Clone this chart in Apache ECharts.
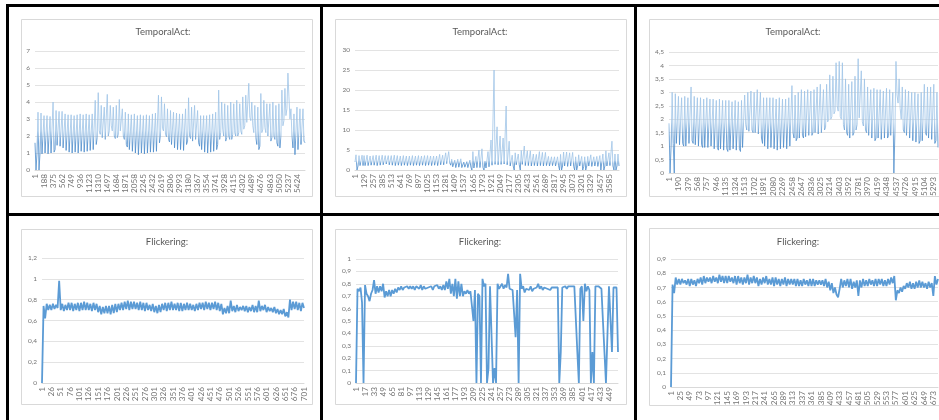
<!DOCTYPE html>
<html><head><meta charset="utf-8">
<script src="https://cdn.jsdelivr.net/npm/echarts@6/dist/echarts.min.js"></script>
<style>html,body{margin:0;padding:0;background:#fff}#c{width:939px;height:420px}</style>
</head><body><div id="c"></div>
<script>
const temporalTitle = 'TemporalAct:';
const flickerTitle = 'Flickering:';

const xLabels1 = ['1','188','375','562','749','936','1123','1310','1497','1684','1871','2058','2245','2432','2619','2806','2993','3180','3367','3554','3741','3928','4115','4302','4489','4676','4863','5050','5237','5424'];
const xLabels2 = ['1','129','257','385','513','641','769','897','1025','1153','1281','1409','1537','1665','1793','1921','2049','2177','2305','2433','2561','2689','2817','2945','3073','3201','3329','3457','3585'];
const xLabels3 = ['1','190','379','568','757','946','1135','1324','1513','1702','1891','2080','2269','2458','2647','2836','3025','3214','3403','3592','3781','3970','4159','4348','4537','4726','4915','5104','5293'];
const xLabels4 = ['1','26','51','76','101','126','151','176','201','226','251','276','301','326','351','376','401','426','451','476','501','526','551','576','601','626','651','676','701'];
const xLabels5 = ['1','17','33','49','65','81','97','113','129','145','161','177','193','209','225','241','257','273','289','305','321','337','353','369','385','401','417','433','449'];
const xLabels6 = ['1','25','49','73','97','121','145','169','193','217','241','265','289','313','337','361','385','409','433','457','481','505','529','553','577','601','625','649','673'];

// TemporalAct (left) - 9 samples per label step
const values1 = [
1.6,0.0,1.0, 3.4,0.0,1.0, 3.35,0.95,1.05,
3.2,1.0,0.95, 3.2,0.95,1.05, 3.15,1.0,0.95,
4.0,1.05,1.2, 3.5,1.45,1.35, 3.45,1.4,1.3,
3.45,1.3,1.2, 3.3,1.15,1.1, 3.25,1.05,1.0,
3.25,1.0,1.05, 3.2,1.05,0.95, 3.25,1.0,1.05,
3.3,1.1,1.05, 3.25,1.05,1.15, 3.3,1.1,1.05,
3.25,1.15,1.1, 3.3,1.2,1.25, 4.1,1.5,1.9,
4.55,2.3,2.1, 3.8,1.9,1.8, 3.7,1.8,1.9,
4.45,2.0,2.3, 3.8,2.6,2.3, 3.7,2.0,1.85,
3.8,1.9,2.1, 4.15,2.3,2.2, 3.6,2.0,1.8,
3.4,1.5,1.35, 3.3,1.2,1.15, 3.25,1.1,1.05,
3.3,1.0,0.95, 3.2,0.9,1.0, 3.25,1.0,0.95,
3.2,0.95,1.0, 3.25,1.0,1.05, 3.2,1.05,1.0,
3.3,1.05,1.1, 3.35,1.1,1.2, 4.4,1.6,2.0,
4.3,2.45,2.3, 3.9,2.1,1.95, 3.6,1.8,1.65,
3.5,1.5,1.4, 3.4,1.3,1.25, 3.35,1.2,1.25,
3.3,1.2,1.15, 3.3,1.15,1.25, 3.6,1.5,1.7,
4.25,2.0,1.85, 3.7,1.7,1.8, 3.8,1.8,1.7,
3.5,1.6,1.4, 3.2,1.2,1.1, 3.2,1.05,1.0,
3.2,1.0,1.05, 3.25,1.05,1.0, 3.3,1.1,1.15,
3.4,1.2,1.5, 4.7,1.8,2.2, 4.0,2.4,2.0,
3.9,1.7,1.9, 3.8,2.0,1.8, 4.0,1.8,2.1,
3.9,2.2,2.0, 4.1,2.0,2.2, 3.9,2.3,2.1,
4.3,2.4,2.6, 4.4,2.8,2.7, 5.1,3.1,2.9,
4.0,2.6,2.2, 3.8,1.9,1.5, 3.7,1.2,1.4,
4.5,2.2,2.4, 4.1,2.5,2.2, 3.9,2.0,1.9,
3.9,1.7,1.9, 4.0,2.0,1.8, 3.8,1.6,1.4,
3.9,1.3,2.0, 4.7,2.6,2.9, 4.8,3.2,3.6,
5.7,4.3,3.0, 3.6,2.0,1.3, 3.3,0.9,1.0,
3.7,1.2,1.3, 3.6,1.5,1.6, 3.6,1.7,1.6
];

// TemporalAct (middle)
const values2 = [
2.0,3.8,0.0, 1.0,3.6,1.1, 1.0,3.7,1.1,
3.6,1.1,1.2, 3.7,1.1,1.15, 3.5,1.2,1.1,
3.6,1.2,1.1, 3.7,1.1,1.2, 3.6,1.2,1.25,
3.7,1.3,1.4, 3.6,1.5,1.4, 3.6,1.3,1.2,
3.6,1.2,1.1, 3.7,1.1,1.2, 3.6,1.2,1.1,
3.5,1.1,1.2, 3.6,1.2,1.1, 3.5,1.1,1.15,
3.5,1.2,1.1, 3.6,1.1,1.2, 3.5,1.2,1.1,
3.6,1.1,1.2, 3.5,1.2,1.1, 3.6,1.1,1.2,
3.6,1.2,1.1, 3.5,1.1,1.2, 3.5,1.2,1.1,
3.5,1.1,1.2, 3.9,1.3,1.2, 3.7,1.3,1.5,
4.3,1.6,2.1, 4.6,1.8,1.2, 2.7,0.8,0.6,
2.5,0.6,0.7, 2.7,0.7,0.6, 2.8,0.6,0.7,
2.0,0.7,0.6, 2.1,0.6,0.7, 2.5,0.7,0.0,
4.6,0.5,0.0, 3.4,0.6,0.5, 5.0,0.6,0.7,
5.3,0.6,0.0, 2.2,0.5,0.0, 4.6,0.8,1.0,
7.5,1.2,1.1, 25.0,1.4,1.3, 10.8,1.3,1.4,
8.5,1.4,1.3, 8.0,1.5,1.4, 16.0,1.3,1.2,
7.2,1.0,1.1, 3.7,1.0,0.0, 4.3,1.3,1.2,
4.0,1.3,0.0, 4.9,1.4,1.3, 6.0,1.1,1.2,
4.8,1.1,1.0, 4.8,1.0,1.1, 4.0,1.1,1.0,
3.9,1.0,1.1, 4.6,1.1,1.0, 4.4,1.0,1.1,
4.4,1.1,1.0, 3.4,1.0,1.1, 3.3,1.1,1.0,
3.3,1.0,1.1, 3.3,1.1,0.0, 3.9,0.0,1.0,
4.5,1.0,0.9, 4.5,0.9,1.0, 4.3,1.0,0.9,
4.4,0.9,0.0, 3.3,0.0,1.0, 3.8,1.0,0.9,
3.4,0.0,0.9, 3.3,0.0,1.0, 3.4,1.0,0.9,
3.8,0.9,1.0, 3.3,1.0,0.9, 3.4,0.9,1.0,
3.6,0.0,0.0, 4.0,0.0,1.0, 4.8,1.0,1.1,
4.3,1.1,1.0, 7.2,1.0,0.0, 4.0,0.0,1.0,
4.0,1.0
];

// TemporalAct (right)
const values3 = [
1.85,0.0,1.0, 3.0,1.1,0.0, 2.95,1.1,1.05,
2.85,1.05,1.1, 2.8,1.1,1.0, 2.85,1.0,1.05,
2.8,1.1,1.05, 3.2,1.2,1.1, 2.85,1.05,1.0,
2.8,1.0,1.05, 2.8,1.05,0.95, 2.75,0.95,1.0,
2.8,0.95,0.9, 2.75,1.0,0.95, 2.75,0.9,0.95,
2.7,0.95,0.85, 2.75,0.9,0.85, 2.7,0.85,0.9,
2.7,0.9,0.8, 2.7,0.85,0.9, 2.65,0.9,0.85,
2.7,0.85,0.9, 2.65,0.9,0.8, 2.7,0.95,0.9,
2.9,1.8,1.6, 3.0,1.55,1.5, 3.05,1.6,1.5,
3.0,1.5,1.45, 3.1,1.45,1.5, 3.0,1.3,1.1,
2.8,1.0,0.95, 2.8,0.9,0.85, 2.8,0.95,0.9,
2.8,0.9,0.85, 2.75,0.85,0.9, 2.8,0.9,0.95,
2.75,0.95,0.9, 2.75,0.9,0.95, 2.8,1.0,1.05,
3.25,1.5,1.3, 2.9,1.2,1.3, 3.0,1.3,1.35,
3.1,1.4,1.3, 3.05,1.35,1.4, 3.1,1.4,1.45,
3.05,1.4,1.5, 3.1,1.5,1.45, 3.2,1.45,1.5,
3.3,1.5,1.55, 3.1,1.6,1.7, 3.3,1.9,2.0,
3.65,2.0,2.1, 3.6,2.2,2.3, 4.1,2.5,2.3,
4.15,2.1,2.0, 4.1,1.8,1.6, 3.5,1.5,1.4,
3.3,1.3,1.35, 3.4,1.4,1.5, 3.6,1.6,1.8,
4.25,2.05,2.0, 3.8,1.9,1.75, 3.5,1.6,1.5,
3.2,1.4,1.35, 3.1,1.3,1.25, 3.15,1.2,1.3,
3.1,1.3,1.25, 3.1,1.25,1.3, 3.05,1.3,1.35,
3.15,1.3,1.4, 3.1,1.4,1.35, 3.0,0.0,1.5,
4.15,2.9,2.6, 3.5,2.4,2.0, 3.2,1.6,1.5,
3.1,1.4,1.35, 3.05,1.3,1.25, 3.0,1.2,1.15,
3.0,1.15,1.1, 2.95,1.1,1.2, 3.0,1.2,1.15,
3.3,1.5,1.4, 3.2,1.3,1.35, 3.2,1.25,1.2,
3.3,1.1,1.2, 3.0,0.95
];

// Flickering (left) - 6 samples per label step
const values4 = [
0.0,0.74,0.62,0.76,0.70,0.75,
0.70,0.76,0.71,0.75,0.72,0.98,
0.70,0.76,0.69,0.75,0.70,0.77,
0.70,0.77,0.69,0.76,0.70,0.77,
0.69,0.77,0.70,0.78,0.70,0.77,
0.70,0.76,0.69,0.77,0.70,0.76,
0.68,0.74,0.66,0.73,0.67,0.74,
0.67,0.74,0.66,0.75,0.67,0.76,
0.68,0.76,0.70,0.77,0.70,0.78,
0.71,0.79,0.70,0.78,0.71,0.78,
0.71,0.77,0.70,0.78,0.70,0.77,
0.69,0.77,0.70,0.75,0.69,0.76,
0.68,0.74,0.67,0.75,0.68,0.76,
0.70,0.77,0.69,0.77,0.70,0.78,
0.70,0.76,0.70,0.77,0.69,0.77,
0.69,0.76,0.70,0.77,0.70,0.76,
0.70,0.75,0.69,0.76,0.70,0.77,
0.71,0.77,0.70,0.78,0.71,0.77,
0.70,0.77,0.71,0.78,0.70,0.77,
0.69,0.76,0.66,0.72,0.67,0.74,
0.67,0.79,0.69,0.74,0.68,0.75,
0.69,0.73,0.70,0.74,0.69,0.74,
0.68,0.73,0.69,0.75,0.68,0.74,
0.68,0.79,0.69,0.74,0.70,0.75,
0.68,0.73,0.69,0.72,0.68,0.73,
0.67,0.71,0.66,0.70,0.66,0.71,
0.64,0.68,0.63,0.80,0.70,0.78,
0.71,0.78,0.70,0.77,0.69,0.77,
0.72
];

// Flickering (middle)
const values5 = [
0.0,0.76,0.74,0.77,0.65,0.0,
0.79,0.72,0.70,0.66,0.72,0.75,
0.83,0.72,0.78,0.73,0.78,0.74,
0.80,0.69,0.74,0.70,0.75,0.70,
0.75,0.72,0.76,0.73,0.77,0.75,
0.78,0.75,0.77,0.76,0.78,0.76,
0.78,0.76,0.78,0.75,0.78,0.77,
0.76,0.79,0.75,0.78,0.76,0.77,
0.77,0.76,0.78,0.75,0.78,0.77,
0.79,0.76,0.78,0.75,0.79,0.75,
0.82,0.76,0.84,0.72,0.80,0.70,
0.84,0.68,0.82,0.70,0.80,0.70,
0.74,0.72,0.75,0.72,0.74,0.73,
0.50,0.75,0.0,0.72,0.70,0.0,
0.84,0.78,0.80,0.0,0.12,0.78,
0.79,0.0,0.12,0.0,0.80,0.76,
0.78,0.80,0.76,0.79,0.77,0.88,
0.76,0.77,0.75,0.76,0.37,0.75,
0.0,0.88,0.76,0.78,0.73,0.76,
0.77,0.75,0.78,0.74,0.76,0.77,
0.77,0.80,0.76,0.78,0.75,0.77,
0.78,0.76,0.77,0.75,0.77,0.78,
0.77,0.76,0.77,0.0,0.25,0.77,
0.77,0.78,0.76,0.78,0.77,0.78,
0.77,0.78,0.77,0.25,0.0,0.76,
0.78,0.50,0.80,0.74,0.78,0.75,
0.0,0.25,0.0,0.78,0.77,0.78,
0.78,0.76,0.50,0.25,0.0,0.0,
0.78,0.77,0.25,0.77,0.76,0.77,
0.25
];

// Flickering (right)
const values6 = [
0.0,0.72,0.66,0.77,0.72,0.76,
0.72,0.76,0.73,0.75,0.72,0.76,
0.71,0.76,0.72,0.75,0.71,0.76,
0.73,0.77,0.72,0.78,0.73,0.77,
0.74,0.77,0.73,0.78,0.74,0.77,
0.73,0.79,0.74,0.78,0.73,0.78,
0.73,0.78,0.74,0.77,0.73,0.78,
0.72,0.78,0.73,0.77,0.72,0.77,
0.73,0.79,0.72,0.77,0.73,0.78,
0.73,0.77,0.71,0.76,0.72,0.77,
0.73,0.78,0.72,0.76,0.72,0.77,
0.71,0.77,0.72,0.76,0.71,0.76,
0.72,0.77,0.71,0.76,0.72,0.76,
0.72,0.76,0.71,0.76,0.71,0.75,
0.71,0.76,0.72,0.75,0.71,0.76,
0.71,0.76,0.71,0.75,0.72,0.75,
0.72,0.75,0.71,0.76,0.70,0.74,
0.68,0.73,0.66,0.70,0.65,0.63,
0.69,0.76,0.70,0.75,0.71,0.76,
0.70,0.76,0.69,0.74,0.70,0.75,
0.64,0.75,0.70,0.76,0.71,0.75,
0.71,0.76,0.72,0.75,0.71,0.76,
0.71,0.76,0.72,0.76,0.71,0.75,
0.71,0.76,0.72,0.77,0.73,0.78,
0.61,0.68,0.66,0.70,0.67,0.71,
0.69,0.73,0.70,0.74,0.69,0.73,
0.69,0.74,0.70,0.75,0.70,0.74,
0.70,0.73,0.69,0.74,0.70,0.73,
0.64,0.78,0.72,0.76
];

// layout / style (kept separate from data)
// shade: [value above which the spikes are drawn light, value below which the base line is drawn dark]
const panels = [
  {title: temporalTitle, xl: xLabels1, v: values1, k: 9, max: 7,   itv: 1,   g: {left: 35,  top: 51,  width: 270, height: 119}, tx: 163, ty: 33,  lw: 0.8, shade: [2.3, 1.6]},
  {title: temporalTitle, xl: xLabels2, v: values2, k: 9, max: 30,  itv: 5,   g: {left: 355, top: 50,  width: 264, height: 120}, tx: 480, ty: 33,  lw: 0.8, shade: [2.4, 1.6]},
  {title: temporalTitle, xl: xLabels3, v: values3, k: 9, max: 4.5, itv: 0.5, g: {left: 669, top: 52,  width: 269, height: 121}, tx: 793, ty: 33,  lw: 0.8, shade: [1.9, 1.35]},
  {title: flickerTitle,  xl: xLabels4, v: values4, k: 6, max: 1.2, itv: 0.2, g: {left: 42,  top: 258, width: 262, height: 125}, tx: 167, ty: 243, lw: 1.8},
  {title: flickerTitle,  xl: xLabels5, v: values5, k: 6, max: 1,   itv: 0.1, g: {left: 356, top: 259, width: 262, height: 124}, tx: 480, ty: 243, lw: 1.8},
  {title: flickerTitle,  xl: xLabels6, v: values6, k: 6, max: 0.9, itv: 0.1, g: {left: 671, top: 259, width: 267, height: 128}, tx: 798, ty: 243, lw: 1.8}
];
const boxes = [[21,19,291,177],[335,19,291,177],[649,19,300,177],[21,229,291,175],[335,229,291,175],[649,228,300,177]];
const FONT = 'Lato, "Open Sans", sans-serif';
const BLUE = '#5b9bd5', LIGHT = '#9fc4e7', DARK = '#4d8ccb';

function lineColor(p) {
  if (!p.shade) return BLUE;
  const off = v => (p.max - v) / p.max;
  return {
    type: 'linear', global: true, x: 0, y: p.g.top, x2: 0, y2: p.g.top + p.g.height,
    colorStops: [
      {offset: 0, color: LIGHT},
      {offset: off(p.shade[0]), color: LIGHT},
      {offset: off(p.shade[1]), color: DARK},
      {offset: 1, color: DARK}
    ]
  };
}

const option = {
  animation: false,
  backgroundColor: '#ffffff',
  title: panels.map(p => ({
    text: p.title, left: p.tx, top: p.ty - 6, padding: 0, textAlign: 'center',
    textStyle: {fontFamily: FONT, fontSize: 9.5, fontWeight: 'normal', color: '#595959'}
  })),
  grid: panels.map(p => Object.assign({containLabel: false}, p.g)),
  xAxis: panels.map((p, i) => ({
    type: 'category', gridIndex: i, boundaryGap: false,
    data: p.v.map((_, j) => (j % p.k === 0 && p.xl[j / p.k] !== undefined) ? p.xl[j / p.k] : ''),
    axisLine: {lineStyle: {color: '#d9d9d9'}},
    axisTick: {show: false},
    axisLabel: {interval: 0, rotate: 90, margin: 4, fontSize: 8.2, fontFamily: FONT, color: '#737373'},
    splitLine: {show: false}
  })),
  yAxis: panels.map((p, i) => ({
    type: 'value', gridIndex: i, min: 0, max: p.max, interval: p.itv,
    axisLine: {show: false}, axisTick: {show: false},
    axisLabel: {margin: 5, fontSize: 6.5, fontFamily: FONT, color: '#737373',
      formatter: v => String(+v.toFixed(2)).replace('.', ',')},
    splitLine: {lineStyle: {color: '#e3e3e3', width: 1}}
  })),
  series: panels.map((p, i) => ({
    type: 'line', xAxisIndex: i, yAxisIndex: i, data: p.v, symbol: 'none',
    lineStyle: {color: lineColor(p), width: p.lw}, itemStyle: {color: BLUE}
  })),
  graphic: [].concat(
    boxes.map(b => ({type: 'rect', silent: true, z: -1,
      shape: {x: b[0] + 0.5, y: b[1] + 0.5, width: b[2], height: b[3]},
      style: {fill: 'none', stroke: '#d9d9d9', lineWidth: 1}})),
    [[6,4,933,3],[6,4,3,416],[320,4,3,416],[634,4,3,416],[6,213,933,3]].map(r => ({
      type: 'rect', silent: true, z: 100,
      shape: {x: r[0], y: r[1], width: r[2], height: r[3]},
      style: {fill: '#000000'}}))
  )
};
echarts.init(document.getElementById('c'), null, {renderer: 'canvas'}).setOption(option);
</script>
</body></html>
